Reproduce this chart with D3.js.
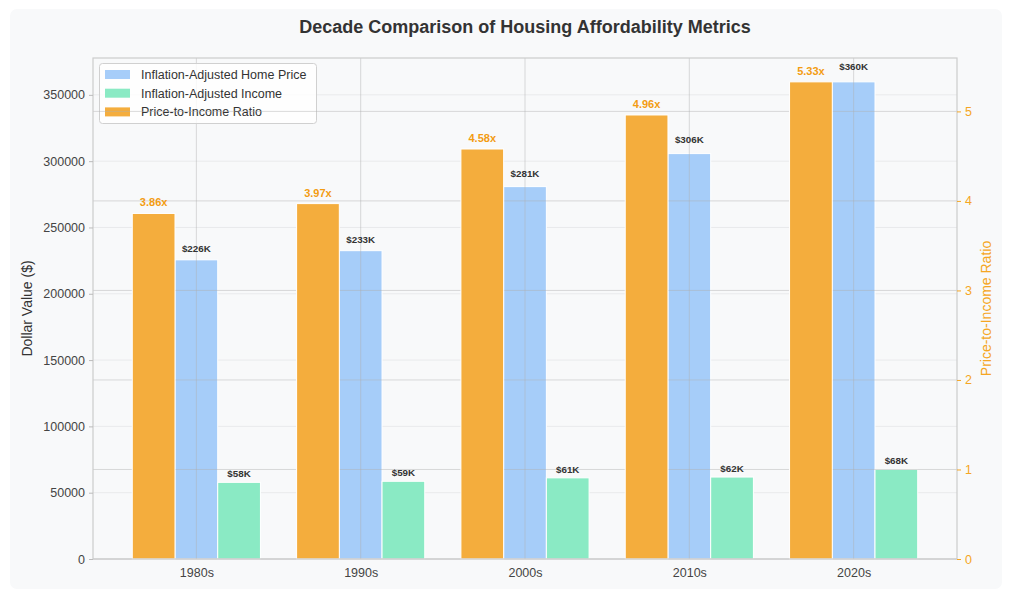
<!DOCTYPE html>
<meta charset="utf-8">
<title>Housing affordability</title>
<style>
  body { margin: 0; background: #fff; }
  text { font-family: "Liberation Sans", Arial, sans-serif; }
</style>
<div id="viz"></div>
<script src="https://cdnjs.cloudflare.com/ajax/libs/d3/7.8.5/d3.min.js"></script>
<script>

var decades = ["1980s", "1990s", "2000s", "2010s", "2020s"];
var homePrice = [225600, 232500, 280800, 305700, 359800];
var income = [57800, 58600, 61200, 61800, 67600];
var ratio = [3.86, 3.97, 4.58, 4.96, 5.33];
var dollarTicks = [0, 50000, 100000, 150000, 200000, 250000, 300000, 350000];
var ratioTicks = [0, 1, 2, 3, 4, 5];

var width = 1023;
var height = 602;
// note: "top" is taken by window.top, so use plot* names
var plotL = 93, plotR = 957, plotT = 58, plotB = 559;
var barW = 0.26;

var svg = d3.select("#viz")
  .append("svg")
  .attr("width", width)
  .attr("height", height);

// card background
svg.append("rect")
  .attr("x", 10).attr("y", 9)
  .attr("width", 992).attr("height", 580)
  .attr("rx", 7)
  .attr("fill", "#f8f9fa");

// matplotlib style margins around the bar groups
var x = d3.scaleLinear()
  .domain([-1.5 * barW - 0.239, decades.length - 1 + 1.5 * barW + 0.239])
  .range([plotL, plotR]);

var y = d3.scaleLinear()
  .domain([0, d3.max(homePrice) * 1.05])
  .range([plotB, plotT]);

var y2 = d3.scaleLinear()
  .domain([0, d3.max(ratio) * 1.05])
  .range([plotB, plotT]);

var bw = x(barW) - x(0);

// faint left grid
svg.append("g")
  .selectAll("line")
  .data(dollarTicks)
  .join("line")
  .attr("x1", plotL).attr("x2", plotR)
  .attr("y1", function(d) { return y(d); })
  .attr("y2", function(d) { return y(d); })
  .attr("stroke", "#e9eaec")
  .attr("stroke-width", 1);

// home price bars
svg.append("g")
  .selectAll("rect")
  .data(homePrice)
  .join("rect")
  .attr("x", function(d, i) { return x(i) - bw / 2; })
  .attr("y", function(d) { return y(d); })
  .attr("width", bw)
  .attr("height", function(d) { return plotB - y(d); })
  .attr("fill", "#a6cdf9")
  .attr("stroke", "#fff")
  .attr("stroke-width", 1);

// income bars
svg.append("g")
  .selectAll("rect")
  .data(income)
  .join("rect")
  .attr("x", function(d, i) { return x(i + barW) - bw / 2; })
  .attr("y", function(d) { return y(d); })
  .attr("width", bw)
  .attr("height", function(d) { return plotB - y(d); })
  .attr("fill", "#8aeac4")
  .attr("stroke", "#fff")
  .attr("stroke-width", 1);

// vertical grid at categories
svg.append("g")
  .selectAll("line")
  .data(decades)
  .join("line")
  .attr("x1", function(d, i) { return x(i); })
  .attr("x2", function(d, i) { return x(i); })
  .attr("y1", plotT).attr("y2", plotB)
  .attr("stroke", "#b0b0b0")
  .attr("stroke-opacity", 0.45)
  .attr("stroke-width", 1);

// legend
var legendItems = [
  {name: "Inflation-Adjusted Home Price", color: "#a6cdf9"},
  {name: "Inflation-Adjusted Income", color: "#8aeac4"},
  {name: "Price-to-Income Ratio", color: "#f4ad3d"}
];
var lg = svg.append("g");
lg.append("rect")
  .attr("x", 99.5).attr("y", 63.5)
  .attr("width", 217).attr("height", 60)
  .attr("rx", 3)
  .attr("fill", "#fff").attr("fill-opacity", 0.8)
  .attr("stroke", "#d0d0d0");
legendItems.forEach(function(d, i) {
  var cy = 74.5 + i * 18.7;
  lg.append("rect")
    .attr("x", 105).attr("y", cy - 4.5)
    .attr("width", 25).attr("height", 9)
    .attr("fill", d.color);
  lg.append("text")
    .attr("x", 141).attr("y", cy)
    .attr("dy", "0.35em")
    .attr("font-size", 12.5)
    .attr("fill", "#333")
    .text(d.name);
});

// right-axis grid (drawn over the left axes layer)
svg.append("g")
  .selectAll("line")
  .data(ratioTicks)
  .join("line")
  .attr("x1", plotL).attr("x2", plotR)
  .attr("y1", function(d) { return y2(d); })
  .attr("y2", function(d) { return y2(d); })
  .attr("stroke", "#b0b0b0")
  .attr("stroke-opacity", 0.45)
  .attr("stroke-width", 1);

// ratio bars
svg.append("g")
  .selectAll("rect")
  .data(ratio)
  .join("rect")
  .attr("x", function(d, i) { return x(i - barW) - bw / 2; })
  .attr("y", function(d) { return y2(d); })
  .attr("width", bw)
  .attr("height", function(d) { return plotB - y2(d); })
  .attr("fill", "#f4ad3d")
  .attr("stroke", "#fff")
  .attr("stroke-width", 1);

// value labels
svg.append("g")
  .selectAll("text")
  .data(homePrice)
  .join("text")
  .attr("x", function(d, i) { return x(i); })
  .attr("y", function(d) { return y(d * 1.02) - 2; })
  .attr("text-anchor", "middle")
  .attr("font-size", 9.8).attr("font-weight", "bold")
  .attr("fill", "#333")
  .text(function(d) { return "$" + Math.round(d / 1000) + "K"; });

svg.append("g")
  .selectAll("text")
  .data(income)
  .join("text")
  .attr("x", function(d, i) { return x(i + barW); })
  .attr("y", function(d) { return y(d) - 5; })
  .attr("text-anchor", "middle")
  .attr("font-size", 9.8).attr("font-weight", "bold")
  .attr("fill", "#333")
  .text(function(d) { return "$" + Math.round(d / 1000) + "K"; });

svg.append("g")
  .selectAll("text")
  .data(ratio)
  .join("text")
  .attr("x", function(d, i) { return x(i - barW); })
  .attr("y", function(d) { return y2(d) - 7; })
  .attr("text-anchor", "middle")
  .attr("font-size", 11).attr("font-weight", "bold")
  .attr("fill", "#f39c12")
  .text(function(d) { return d.toFixed(2) + "x"; });

// spines
svg.append("rect")
  .attr("x", plotL).attr("y", plotT)
  .attr("width", plotR - plotL).attr("height", plotB - plotT)
  .attr("fill", "none")
  .attr("stroke", "#cccccc")
  .attr("stroke-width", 1.2);

// axes
var xAxis = svg.append("g")
  .attr("transform", "translate(0," + plotB + ")")
  .call(d3.axisBottom(x).tickValues(d3.range(decades.length))
    .tickFormat(function(i) { return decades[i]; })
    .tickSize(0).tickPadding(9));

var yAxis = svg.append("g")
  .attr("transform", "translate(" + plotL + ",0)")
  .call(d3.axisLeft(y).tickValues(dollarTicks)
    .tickFormat(d3.format("d")).tickSize(4).tickPadding(4));

var yAxis2 = svg.append("g")
  .attr("transform", "translate(" + plotR + ",0)")
  .call(d3.axisRight(y2).tickValues(ratioTicks)
    .tickFormat(d3.format("d")).tickSize(4).tickPadding(4));

[xAxis, yAxis, yAxis2].forEach(function(a) {
  a.select(".domain").remove();
  a.selectAll("text")
    .attr("font-family", "Liberation Sans, Arial, sans-serif")
    .attr("font-size", 12.5)
    .attr("fill", "#444");
  a.selectAll("line").attr("stroke", "#bbb");
});
yAxis2.selectAll("text").attr("fill", "#f5a623");
yAxis2.selectAll("line").attr("stroke", "#f5a623");

// titles
svg.append("text")
  .attr("x", (plotL + plotR) / 2).attr("y", 33)
  .attr("text-anchor", "middle")
  .attr("font-size", 18).attr("font-weight", "bold")
  .attr("fill", "#333")
  .text("Decade Comparison of Housing Affordability Metrics");

svg.append("text")
  .attr("transform", "translate(27," + (plotT + plotB) / 2 + ") rotate(-90)")
  .attr("text-anchor", "middle")
  .attr("dy", "0.35em")
  .attr("font-size", 14)
  .attr("fill", "#333")
  .text("Dollar Value ($)");

svg.append("text")
  .attr("transform", "translate(986," + (plotT + plotB) / 2 + ") rotate(-90)")
  .attr("text-anchor", "middle")
  .attr("dy", "0.35em")
  .attr("font-size", 14)
  .attr("fill", "#f5a623")
  .text("Price-to-Income Ratio");

</script>
